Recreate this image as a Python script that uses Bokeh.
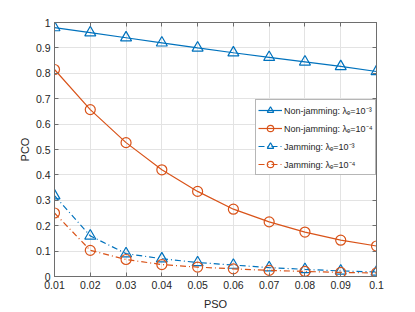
from bokeh.plotting import figure
from bokeh.models import FixedTicker, LinearAxis, CustomJSTickFormatter, Range1d, Legend, LegendItem
from bokeh.embed import file_html
from bokeh.resources import INLINE

pso = [0.01, 0.02, 0.03, 0.04, 0.05, 0.06, 0.07, 0.08, 0.09, 0.10]
nonjam_e3 = [0.980, 0.960, 0.940, 0.920, 0.900, 0.881, 0.863, 0.845, 0.827, 0.807]
nonjam_e4 = [0.815, 0.657, 0.527, 0.420, 0.335, 0.265, 0.215, 0.175, 0.143, 0.120]
jam_e3 = [0.318, 0.160, 0.090, 0.070, 0.055, 0.045, 0.035, 0.028, 0.022, 0.018]
jam_e4 = [0.250, 0.103, 0.067, 0.047, 0.037, 0.030, 0.024, 0.020, 0.016, 0.014]
x_ticks = [0.01, 0.02, 0.03, 0.04, 0.05, 0.06, 0.07, 0.08, 0.09, 0.1]
y_ticks = [0, 0.1, 0.2, 0.3, 0.4, 0.5, 0.6, 0.7, 0.8, 0.9, 1]
labels = ["Non-jamming: λₑ=10⁻³", "Non-jamming: λₑ=10⁻⁴", "Jamming: λₑ=10⁻³", "Jamming: λₑ=10⁻⁴"]

BLUE = "#0072BD"
ORANGE = "#D95319"
FONT = "Liberation Sans"
AX = "#6e6e6e"

p = figure(output_backend="svg", toolbar_location=None,
           frame_width=322, frame_height=254,
           min_border_left=54, min_border_top=22, min_border_right=20, min_border_bottom=30,
           x_range=Range1d(0.01, 0.1), y_range=Range1d(0, 1),
           x_axis_label="PSO", y_axis_label="PCO")
p.background_fill_color = "white"
p.border_fill_color = "white"
p.outline_line_color = AX
p.outline_line_width = 1

fmt = CustomJSTickFormatter(code="var s = tick.toFixed(2); s = s.replace(/0+$/, ''); s = s.replace(/\\.$/, ''); return s;")
blank = CustomJSTickFormatter(code="return '';")

for ax in p.xaxis:
    ax.ticker = FixedTicker(ticks=x_ticks)
for ax in p.yaxis:
    ax.ticker = FixedTicker(ticks=y_ticks)

def style(ax):
    ax.axis_line_color = AX
    ax.major_tick_line_color = AX
    ax.major_tick_in = 4
    ax.major_tick_out = 0
    ax.minor_tick_line_color = None
    ax.major_label_text_font = FONT
    ax.major_label_text_font_size = "10.5px"
    ax.major_label_text_color = "#262626"
    ax.axis_label_text_font = FONT
    ax.axis_label_text_font_size = "11px"
    ax.axis_label_text_font_style = "normal"
    ax.axis_label_text_color = "#262626"
    ax.formatter = fmt

style(p.xaxis[0]); style(p.yaxis[0])
p.xaxis[0].axis_label_standoff = 6
p.yaxis[0].axis_label_standoff = 2
p.xaxis[0].major_label_standoff = 4
p.yaxis[0].major_label_standoff = 4

top = LinearAxis(ticker=FixedTicker(ticks=x_ticks), formatter=blank)
right = LinearAxis(ticker=FixedTicker(ticks=y_ticks), formatter=blank)
for ax in (top, right):
    ax.axis_line_color = AX
    ax.major_tick_line_color = AX
    ax.major_tick_in = 4
    ax.major_tick_out = 0
    ax.minor_tick_line_color = None
    ax.major_label_standoff = 0
    ax.major_label_text_font_size = "10px"
p.add_layout(top, "above")
p.add_layout(right, "right")

p.xgrid.ticker = FixedTicker(ticks=x_ticks)
p.ygrid.ticker = FixedTicker(ticks=y_ticks)
p.grid.grid_line_color = "#e3e3e3"
p.grid.grid_line_width = 1

series = [
    (nonjam_e3, BLUE, "solid", "triangle"),
    (nonjam_e4, ORANGE, "solid", "circle"),
    (jam_e3, BLUE, "6 3 1 3", "triangle"),
    (jam_e4, ORANGE, "6 3 1 3", "circle"),
]
items = []
for (ys, c, dash, mk), lab in zip(series, labels):
    r1 = p.line(pso, ys, line_color=c, line_width=1.2, line_dash=dash)
    r2 = p.scatter(pso, ys, marker=mk, size=11 if mk == "triangle" else 10,
                   line_color=c, line_width=1.2, fill_alpha=0)
    items.append(LegendItem(label=lab, renderers=[r1, r2]))

leg = Legend(items=items, location=(201, 101))
leg.label_text_font = FONT
leg.label_text_font_size = "9px"
leg.label_text_color = "#262626"
leg.border_line_color = AX
leg.border_line_width = 1
leg.background_fill_color = "white"
leg.background_fill_alpha = 1
leg.glyph_width = 24
leg.glyph_height = 16
leg.label_height = 16
leg.spacing = 2
leg.padding = 2
leg.label_standoff = 2
leg.margin = 0
p.add_layout(leg)

open("out.html", "w").write(file_html(p, INLINE))
